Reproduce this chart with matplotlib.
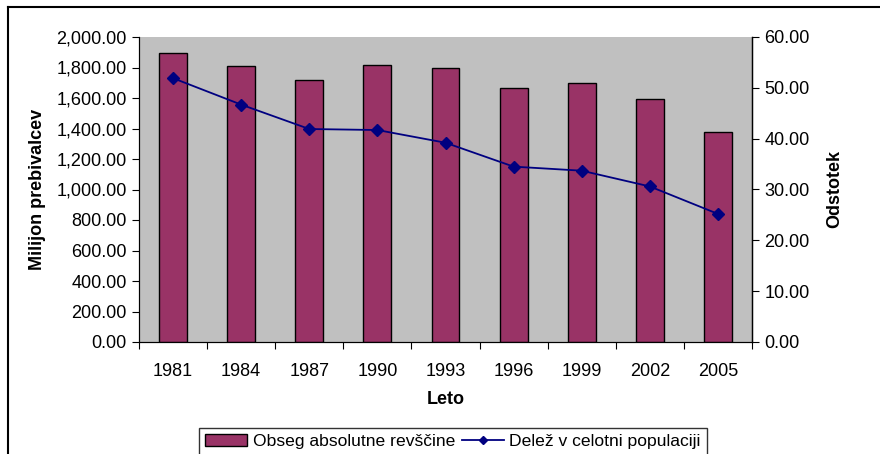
import matplotlib
matplotlib.use("Agg")
import matplotlib.pyplot as plt
import numpy as np
from matplotlib.lines import Line2D
from matplotlib.ticker import FuncFormatter, MultipleLocator

plt.rcParams["font.family"] = ["Liberation Sans", "DejaVu Sans"]

# data
years = ["1981", "1984", "1987", "1990", "1993", "1996", "1999", "2002", "2005"]
poor_millions = [1896, 1809, 1718, 1817, 1798, 1665, 1696, 1596, 1374]
share_pct = [51.9, 46.7, 41.9, 41.7, 39.2, 34.5, 33.7, 30.6, 25.2]

fig = plt.figure(figsize=(8.8, 4.54), dpi=100)
ax = fig.add_axes([139 / 880, 1 - 342 / 454, (752 - 139) / 880, (342 - 37) / 454])
ax2 = ax.twinx()

x = np.arange(len(years))
bars = ax.bar(x, poor_millions, width=0.41, color="#993366", edgecolor="black",
              linewidth=1.0, label="Obseg absolutne revščine", zorder=3)
ln, = ax2.plot(x, share_pct, color="#000080", marker="D", markersize=6,
               linewidth=1.3, label="Delež v celotni populaciji", zorder=4)

ax.set_facecolor("#C0C0C0")
ax.set_xlim(-0.5, len(years) - 0.5)
ax.set_ylim(0, 2000)
ax2.set_ylim(0, 60)

ax.yaxis.set_major_locator(MultipleLocator(200))
ax.yaxis.set_major_formatter(FuncFormatter(lambda v, p: f"{v:,.2f}"))
ax2.yaxis.set_major_locator(MultipleLocator(10))
ax2.yaxis.set_major_formatter(FuncFormatter(lambda v, p: f"{v:.2f}"))

# category ticks sit between the bars, labels centred under them
ax.set_xticks(np.arange(len(years) + 1) - 0.5)
ax.set_xticklabels([])
ax.set_xticks(x, minor=True)
ax.set_xticklabels(years, minor=True)
ax.tick_params(axis="x", which="minor", length=0, pad=15, labelsize=13)
ax.tick_params(axis="x", which="major", length=5, direction="out")
ax.tick_params(axis="y", length=5, labelsize=13, pad=4)
ax2.tick_params(axis="y", length=5, labelsize=13, pad=4)

ax.spines["top"].set_visible(False)
ax2.spines["top"].set_visible(False)
ax2.spines["right"].set_linewidth(1.0)

ax.set_xlabel("Leto", fontsize=13, fontweight="bold", labelpad=8)
ax.set_ylabel("Milijon prebivalcev", fontsize=13, fontweight="bold", labelpad=7)
ax2.set_ylabel("Odstotek", fontsize=13, fontweight="bold", labelpad=12)

leg = fig.legend([bars, ln], ["Obseg absolutne revščine", "Delež v celotni populaciji"],
                 loc="upper center", bbox_to_anchor=(453 / 880, 1 - 419 / 454),
                 ncol=2, fontsize=12.6, frameon=True, fancybox=False,
                 handlelength=2.4, handletextpad=0.3, columnspacing=0.4,
                 borderpad=0.35, edgecolor="black", markerscale=0.75)
leg.get_frame().set_linewidth(1.0)

# outer chart frame (only left and top edges visible)
fig.add_artist(Line2D([8 / 880, 8 / 880], [0, 1 - 7 / 454], color="black", linewidth=1.5,
                      transform=fig.transFigure))
fig.add_artist(Line2D([8 / 880, 1], [1 - 7 / 454, 1 - 7 / 454], color="black", linewidth=1.5,
                      transform=fig.transFigure))

fig.savefig("out.png", dpi=100, facecolor="white")
